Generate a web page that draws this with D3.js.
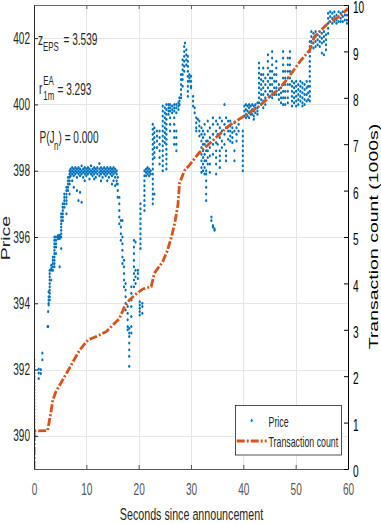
<!DOCTYPE html>
<html>
<head>
<meta charset="utf-8">
<script src="https://cdn.jsdelivr.net/npm/d3@7"></script>
<style>
	html, body { margin: 0; padding: 0; background: #fff; }
	svg { display: block; }
	text { font-family: 'Liberation Sans', Arial, Helvetica, sans-serif; }
</style>
</head>
<body>
<div id="chart"></div>
<script>
// price columns, each one is [seconds, price, price, ...]
var priceOpen = [
	[0.05, 390.0, 390.1, 390.2, 390.3, 390.4, 390.5, 390.6, 390.7, 390.8, 390.9, 391.0, 391.1, 391.2, 391.3, 391.4, 391.5, 391.6, 391.7, 391.8, 391.9, 392.0, 392.1, 392.2, 392.3],
	[0.9, 392.02, 391.9, 391.73],
	[1.3, 392.0, 391.88],
	[1.6, 392.5, 392.3],
	[2.6, 393.3],
	[2.7, 393.75, 393.3],
	[2.8, 393.95, 394.0, 394.1, 394.2, 394.35],
	[3.0, 394.1, 394.2, 394.3, 394.4, 394.5, 394.6, 394.7, 394.8, 394.9, 395.0],
	[3.3, 395.0, 395.05, 395.15, 394.7],
	[3.6, 395.0, 395.1, 395.2, 395.3, 395.4],
	[3.9, 395.1, 395.2, 395.3, 395.4, 395.5, 395.6, 395.7, 395.8, 395.9, 396.0],
	[4.2, 395.7, 395.8, 395.9, 396.0, 395.5],
	[4.6, 395.95, 396.0, 396.05],
	[4.9, 396.0, 396.05, 395.95, 395.1],
	[5.2, 396.0, 396.1, 396.2, 396.3, 396.4, 396.5, 396.6, 396.7, 395.65],
	[5.5, 396.5, 396.6, 396.7, 396.8, 396.9, 397.0],
	[5.8, 396.9, 397.0, 397.1, 397.2, 397.3],
	[6.2, 397.0, 397.1, 397.2, 397.3, 397.4, 397.5, 396.7],
	[6.5, 397.4, 397.5, 397.6, 397.7, 397.8],
	[6.8, 397.6, 397.7, 397.8, 397.9, 398.0, 397.3]
];
var pricePlateau = [
	[7.0, 398.05, 397.95, 397.85],
	[7.3, 398.0, 397.9, 398.1, 397.7],
	[7.6, 397.95, 398.05, 397.85, 397.5],
	[7.9, 398.0, 397.9, 398.1],
	[8.2, 398.05, 397.95, 397.8, 397.4],
	[8.5, 398.0, 397.9, 398.1, 397.1],
	[8.8, 397.95, 398.05, 397.85, 397.35],
	[9.1, 398.0, 397.9, 398.15, 397.05],
	[9.4, 398.05, 397.95, 397.8],
	[9.7, 398.0, 397.9, 398.1, 397.7],
	[10.0, 397.95, 398.05, 397.85],
	[10.3, 398.0, 397.9, 398.1],
	[10.6, 398.05, 397.95, 397.75],
	[10.9, 398.0, 397.9, 398.15],
	[11.2, 397.95, 398.05, 397.85],
	[11.5, 398.0, 397.9, 398.1, 397.75],
	[11.8, 398.05, 397.95, 397.8],
	[12.1, 398.0, 397.9, 398.1],
	[12.5, 397.95, 398.05, 397.85, 398.22],
	[12.8, 398.0, 397.9, 398.1, 397.7],
	[13.1, 398.05, 397.95, 397.8],
	[13.4, 398.0, 397.9, 398.1],
	[13.7, 397.95, 398.05, 397.85],
	[14.0, 398.0, 397.9, 398.1, 397.7],
	[14.3, 398.05, 397.95, 397.8],
	[14.6, 398.0, 397.9, 398.1],
	[14.9, 397.95, 398.05, 397.85, 397.6],
	[15.2, 398.0, 397.9, 398.1, 397.7],
	[15.5, 398.05, 397.95, 397.8, 397.55],
	[15.8, 398.0, 397.9, 397.7, 397.6]
];
var priceDrop = [
	[16.0, 397.8, 397.6, 397.4, 397.2],
	[16.3, 397.2, 397.0, 396.8, 396.6, 396.4],
	[16.6, 396.5, 396.3, 396.1, 395.9],
	[16.9, 396.0, 395.8, 395.6, 395.4, 395.2, 396.5],
	[17.2, 395.3, 395.1, 394.9, 394.7, 394.5],
	[17.5, 394.6, 394.4, 394.2, 394.0, 393.8],
	[17.9, 393.9, 393.7, 393.5, 393.3, 393.2],
	[18.2, 393.25, 393.1, 393.0, 392.8, 392.6, 392.4, 392.1]
];
var priceRecovery = [
	[18.6, 394.5, 394.3, 394.1, 393.9, 393.6, 393.3, 393.1],
	[19.1, 395.9, 395.7, 395.5, 395.3, 395.1, 394.9, 394.7, 394.5],
	[19.4, 395.0, 394.8, 394.6, 395.85],
	[19.85, 394.75, 394.9, 395.0],
	[20.2, 394.05, 393.95, 393.85, 393.75, 393.65],
	[20.35, 397.0, 396.85, 396.7, 396.55, 396.4, 396.25, 396.1, 395.95, 395.8, 395.65],
	[20.7, 394.0, 393.9, 393.7],
	[21.1, 398.0, 397.85, 397.7, 397.55, 397.4, 397.25, 397.1, 396.95, 396.8],
	[21.4, 398.05, 397.95, 397.85],
	[21.7, 398.0, 397.9, 398.1],
	[22.0, 398.05, 397.95, 397.85],
	[22.3, 398.0, 397.9],
	[22.7, 399.4, 399.25, 399.1, 398.95, 398.8, 398.65, 398.5, 398.35, 398.2, 398.05, 397.9, 397.75, 397.6, 397.45, 397.3, 397.15, 397.0],
	[23.0, 399.3, 399.15, 399.0, 398.85, 398.7, 398.55, 398.4, 397.3],
	[23.5, 399.2, 399.05, 398.9, 398.7],
	[24.0, 399.2, 399.0, 398.8, 398.6, 398.4, 398.2],
	[24.6, 399.95, 399.8, 399.65, 399.5, 399.35, 399.2, 399.05, 398.9, 398.75, 398.6, 398.45, 398.3, 398.15, 398.0],
	[25.0, 399.9, 399.75, 399.6, 399.45, 399.3, 399.15, 399.0, 398.85],
	[25.3, 400.0, 399.85, 399.7, 399.55, 399.4, 399.25, 399.1, 398.95, 398.8, 398.65, 398.5, 398.35, 398.2, 398.05],
	[25.7, 400.0, 399.9, 399.8, 399.7],
	[26.0, 400.0, 399.9, 399.8, 399.6, 399.4, 399.2],
	[26.4, 399.95, 399.85, 399.75],
	[26.8, 400.0, 399.9, 399.8, 399.6, 399.4, 399.2, 399.0, 398.8],
	[27.2, 400.0, 399.9, 399.75, 399.2, 399.0, 398.8, 398.6],
	[27.6, 400.05, 399.95, 399.85]
];
var pricePeak = [
	[27.8, 400.2, 400.1, 400.0],
	[28.1, 400.9, 400.75, 400.6, 400.45, 400.3, 400.2],
	[28.4, 401.35, 401.2, 401.05, 400.9, 400.75, 400.55],
	[28.7, 401.75, 401.6, 401.45, 401.3, 401.15, 401.0],
	[28.85, 401.85],
	[29.1, 401.65, 401.5, 401.35, 401.2],
	[29.4, 401.45, 401.3, 401.15, 401.0, 400.85, 400.7, 400.55, 400.4, 400.25],
	[29.7, 400.9, 400.8, 400.7],
	[30.0, 400.85, 400.7, 400.55, 400.5],
	[30.4, 400.25, 400.1, 399.95],
	[30.7, 399.9, 399.75],
	[31.0, 399.6, 399.45, 399.3, 399.2],
	[31.3, 399.55],
	[31.6, 399.5, 399.35, 399.2, 399.05],
	[32.0, 399.3, 399.1, 398.9, 398.7, 398.5, 398.3, 398.1, 397.95],
	[32.3, 399.2, 399.0, 398.8, 398.6, 398.4, 398.2, 398.0]
];
var priceMid = [
	[32.6, 399.4, 399.1, 398.8, 398.5, 398.3, 398.1, 397.9],
	[32.9, 398.9, 398.6, 398.3, 398.0, 397.9, 397.7, 397.5, 397.3, 397.1],
	[33.2, 399.5, 399.2, 398.9, 398.6, 398.4, 398.2],
	[33.6, 399.3, 399.0, 398.7, 398.45, 398.2, 397.95],
	[33.9, 396.6, 396.5],
	[34.2, 399.6, 399.4, 399.1, 398.8, 398.5, 396.3, 396.35],
	[34.5, 396.25, 396.2],
	[34.8, 399.5, 399.2, 398.85, 398.6, 398.4, 398.2, 397.9],
	[35.1, 399.4, 399.1, 398.8],
	[35.5, 399.6, 399.3, 399.0, 398.6, 398.45, 398.3, 398.1],
	[35.9, 399.5, 399.2, 398.9, 398.7],
	[36.4, 400.0, 399.4, 399.1, 398.8],
	[36.7, 399.6, 399.3, 398.6, 398.45, 398.3],
	[37.1, 399.5, 399.2, 398.95],
	[37.5, 399.5, 399.35, 399.2, 399.05, 398.9],
	[37.9, 399.3, 399.15, 399.0, 398.85],
	[38.3, 399.45, 399.2, 398.6, 398.3],
	[38.7, 399.3, 399.1, 398.9],
	[39.1, 399.4, 399.2],
	[39.9, 399.2, 399.05, 398.9, 398.75, 398.6, 398.45, 398.3, 398.15, 398.0]
];
var priceLate = [
	[40.2, 399.95, 399.8, 399.65],
	[40.5, 400.0, 399.85, 399.7, 399.6],
	[40.8, 399.95, 399.8, 399.65],
	[41.1, 400.0, 399.9, 399.75, 399.6],
	[41.4, 399.95, 399.8, 399.7],
	[41.7, 400.0, 399.85, 399.7],
	[42.0, 399.95, 399.8, 399.65, 399.55],
	[42.3, 400.0, 399.9, 399.75],
	[42.7, 400.05, 399.9, 399.8, 399.7],
	[43.0, 401.25, 401.1, 400.95, 400.8, 400.65, 400.5, 400.35, 400.2, 400.05],
	[43.4, 400.9, 400.75, 400.6, 400.45, 400.3, 400.15, 400.0],
	[43.8, 401.1, 400.9, 400.7, 400.5, 400.3, 400.1, 399.9],
	[44.2, 400.8, 400.6, 400.4, 400.2, 400.0],
	[44.7, 401.5, 401.3, 401.1, 400.9, 400.7, 400.5, 400.3],
	[45.1, 401.0, 400.8, 400.6, 400.4, 400.25],
	[45.5, 401.6, 401.4, 401.2, 401.0, 400.8, 400.6, 400.4, 400.2],
	[45.9, 400.9, 400.7, 400.5, 400.3],
	[46.3, 401.3, 401.1, 400.9, 400.7, 400.5, 400.3],
	[46.8, 400.6, 400.45, 400.3, 400.15],
	[47.2, 400.5, 400.35, 400.2, 400.05],
	[47.6, 401.6, 401.4, 401.2, 401.0, 400.8, 400.6, 400.4, 400.2, 400.0],
	[48.0, 401.0, 400.8, 400.6, 400.4, 400.2, 400.0],
	[48.5, 401.4, 401.2, 401.0, 400.8, 400.6, 400.4, 400.2, 400.05],
	[48.9, 401.6, 401.4, 401.2, 401.0, 400.8, 400.6],
	[49.3, 400.7, 400.55, 400.4, 400.25, 400.1, 399.95],
	[49.7, 400.65, 400.5, 400.35, 400.2, 400.05],
	[50.1, 400.7, 400.55, 400.4, 400.25, 400.1, 399.95],
	[50.5, 400.6, 400.45, 400.3, 400.15, 400.0],
	[50.9, 400.7, 400.55, 400.4, 400.25, 400.1],
	[51.3, 400.65, 400.5, 400.35, 400.2, 400.05, 399.95],
	[51.7, 400.6, 400.45, 400.3, 400.15, 400.0],
	[52.1, 400.7, 400.5, 400.3, 400.1],
	[52.4, 400.55, 400.35, 400.15],
	[52.7, 401.9, 401.75, 401.6, 401.45, 401.3, 401.15, 401.0, 400.85, 400.7, 400.55, 400.4, 400.25, 400.1],
	[53.0, 402.2, 402.05, 401.9, 401.75],
	[53.4, 402.15, 402.0, 401.85, 401.7],
	[53.8, 402.2, 402.05, 401.9, 401.75],
	[54.2, 402.1, 401.95, 401.8],
	[54.6, 402.2, 402.05, 401.9, 401.75],
	[55.0, 402.15, 402.0, 401.85, 401.55],
	[55.4, 402.2, 402.05, 401.9, 401.5],
	[55.8, 402.1, 401.95, 401.8, 401.65],
	[56.2, 402.75, 402.6, 402.45, 402.3, 402.15],
	[56.6, 402.8, 402.65, 402.5],
	[57.0, 402.75, 402.6, 402.45],
	[57.4, 402.8, 402.65, 402.5],
	[57.8, 402.7, 402.55, 402.45],
	[58.2, 402.8, 402.65, 402.5],
	[58.6, 402.75, 402.6, 402.5],
	[59.0, 402.8, 402.65, 402.5],
	[59.4, 402.7, 402.55],
	[59.8, 402.85, 402.7, 402.55, 402.45]
];

// cumulative transaction count, thousands
var countTime = [0, 0.05, 2.6, 3.2, 3.6, 4.2, 5.5, 7.1, 8.7, 10.3, 12.2, 13.8, 16.3, 17.3, 18.3, 19.5, 20.8, 22.4, 23.0, 24.6, 25.4, 26.2, 26.9, 27.5, 27.8, 28.8, 29.7, 31.6, 33.6, 36.4, 37.4, 39.9, 40.9, 42.8, 45.0, 46.9, 48.5, 50.8, 52.7, 53.6, 55.2, 56.5, 58.4, 60];
var countValue = [0, 0.82, 0.83, 1.2, 1.49, 1.67, 1.92, 2.24, 2.56, 2.78, 2.87, 2.96, 3.24, 3.5, 3.65, 3.77, 3.88, 3.93, 4.22, 4.47, 4.68, 4.97, 5.3, 5.69, 6.16, 6.44, 6.55, 6.82, 7.02, 7.31, 7.41, 7.59, 7.66, 7.8, 8.02, 8.2, 8.42, 8.78, 9.03, 9.32, 9.5, 9.64, 9.75, 9.93];

var xTicks = [0, 10, 20, 30, 40, 50, 60];
var priceTicks = [390, 392, 394, 396, 398, 400, 402];
var countTicks = [0, 1, 2, 3, 4, 5, 6, 7, 8, 9, 10];
var seriesNames = ['Price', 'Transaction count'];
var statValues = { zEps: '3.539', r1m: '3.293', pJn: '0.000' };

(function() {
	var width = 381, height = 523,
		left = 34, right = 348, top = 5, bottom = 469,
		squash = 0.63, // the picture is narrower than it is tall, text too
		blue = '#0072BD', orange = '#D95319';

	var x = d3.scaleLinear().domain([0, 60]).range([left, right]);
	var yPrice = d3.scaleLinear().domain([389, 403]).range([bottom, top]);
	var yCount = d3.scaleLinear().domain([0, 10]).range([bottom, top]);

	var svg = d3.select('#chart').append('svg')
		.attr('width', width)
		.attr('height', height);

	svg.append('clipPath').attr('id', 'plot')
		.append('rect')
		.attr('x', left).attr('y', top)
		.attr('width', right - left + 1).attr('height', bottom - top + 1);

	// grid
	var grid = svg.append('g').attr('stroke', '#e6e6e6').attr('stroke-width', 1);
	grid.selectAll('.gx').data(xTicks.slice(1, -1)).enter().append('line')
		.attr('x1', function(d) { return Math.round(x(d)) + 0.5; })
		.attr('x2', function(d) { return Math.round(x(d)) + 0.5; })
		.attr('y1', top).attr('y2', bottom);
	grid.selectAll('.gy').data(priceTicks).enter().append('line')
		.attr('y1', function(d) { return Math.round(yPrice(d)) + 0.5; })
		.attr('y2', function(d) { return Math.round(yPrice(d)) + 0.5; })
		.attr('x1', left).attr('x2', right);

	// price dots
	var pricePoints = [];
	[priceOpen, pricePlateau, priceDrop, priceRecovery, pricePeak, priceMid, priceLate].forEach(function(cols) {
		cols.forEach(function(col) {
			for(var i = 1; i < col.length; i++) pricePoints.push([col[0], col[i]]);
		});
	});
	svg.append('g').attr('clip-path', 'url(#plot)')
		.selectAll('ellipse').data(pricePoints).enter().append('ellipse')
		.attr('cx', function(d) { return x(d[0]); })
		.attr('cy', function(d) { return yPrice(d[1]); })
		.attr('rx', 1.1)
		.attr('ry', 1.5)
		.attr('fill', blue);

	// transaction count
	var line = d3.line()
		.x(function(d, i) { return x(countTime[i]); })
		.y(function(d) { return yCount(d); });
	svg.append('path').datum(countValue)
		.attr('clip-path', 'url(#plot)')
		.attr('d', line)
		.attr('fill', 'none')
		.attr('stroke', orange)
		.attr('stroke-width', 2.8)
		.attr('stroke-dasharray', '8,2,2,2');

	// axes
	function styleAxis(g, color, shift) {
		g.attr('font-size', 16)
			.attr('font-family', "'Liberation Sans', Arial, sans-serif")
			.attr('color', color);
		g.selectAll('text')
			.attr('transform', 'translate(0,' + (shift || 0) + ') scale(' + squash + ',1)')
			.attr('fill', color);
	}
	svg.append('g').attr('transform', 'translate(0,' + top + ')')
		.call(d3.axisTop(x).tickValues(xTicks).tickSize(-4).tickSizeOuter(0).tickFormat(''))
		.call(styleAxis, '#666');
	svg.append('g').attr('transform', 'translate(0,' + bottom + ')')
		.call(d3.axisBottom(x).tickValues(xTicks).tickSize(-4).tickSizeOuter(0).tickPadding(15))
		.call(styleAxis, '#555');
	svg.append('g').attr('transform', 'translate(' + left + ',0)')
		.call(d3.axisLeft(yPrice).tickValues(priceTicks).tickSize(-4).tickSizeOuter(0).tickPadding(4 / squash))
		.call(styleAxis, '#262626');
	svg.append('g').attr('transform', 'translate(' + right + ',0)')
		.call(d3.axisRight(yCount).tickValues(countTicks).tickSize(-4).tickSizeOuter(0).tickPadding(5 / squash))
		.call(styleAxis, '#000', 2.5);

	// text helper, squashed like the rest of the picture
	function label(px, py, str, size, anchor, rotate) {
		return svg.append('text')
			.attr('transform', 'translate(' + px + ',' + py + ') scale(' + squash + ',1)' + (rotate ? ' rotate(' + rotate + ')' : ''))
			.attr('font-size', size)
			.attr('text-anchor', anchor || 'start')
			.attr('fill', '#262626')
			.text(str);
	}
	label(191.5, 520, 'Seconds since announcement', 17, 'middle');
	label(5.5, 238, 'Price', 19.5, 'middle', -90).attr('dy', '0.36em');
	label(374, 236.5, 'Transaction count (1000s)', 19.5, 'middle', -90).attr('dy', '0.36em').attr('fill', '#000');

	// statistics
	label(38, 45, 'z', 16);
	label(43, 51, 'EPS', 12.5);
	label(63.5, 45, '= ' + statValues.zEps, 16);
	label(39, 94, 'r', 16);
	label(43.3, 85, 'EA', 12.5);
	label(43.3, 100, '1m', 12.5);
	label(57.5, 95, '= ' + statValues.r1m, 16);
	label(39.5, 143, 'P(J', 16);
	label(54, 149.5, 'n', 12.5);
	label(58.5, 143, ') = ' + statValues.pJn, 16);

	// legend
	var legend = svg.append('g');
	legend.append('rect')
		.attr('x', 235.5).attr('y', 405.5)
		.attr('width', 106).attr('height', 49.5)
		.attr('fill', '#fff')
		.attr('stroke', '#262626')
		.attr('stroke-width', 0.8);
	legend.append('ellipse')
		.attr('cx', 251.7).attr('cy', 420.5).attr('rx', 1.1).attr('ry', 1.5)
		.attr('fill', blue);
	legend.append('line')
		.attr('x1', 236.7).attr('x2', 266.7)
		.attr('y1', 441).attr('y2', 441)
		.attr('stroke', orange)
		.attr('stroke-width', 2.8)
		.attr('stroke-dasharray', '8,2,2,2');
	label(268.5, 426.5, seriesNames[0], 14);
	label(268.5, 447, seriesNames[1], 14);
})();
</script>
</body>
</html>
